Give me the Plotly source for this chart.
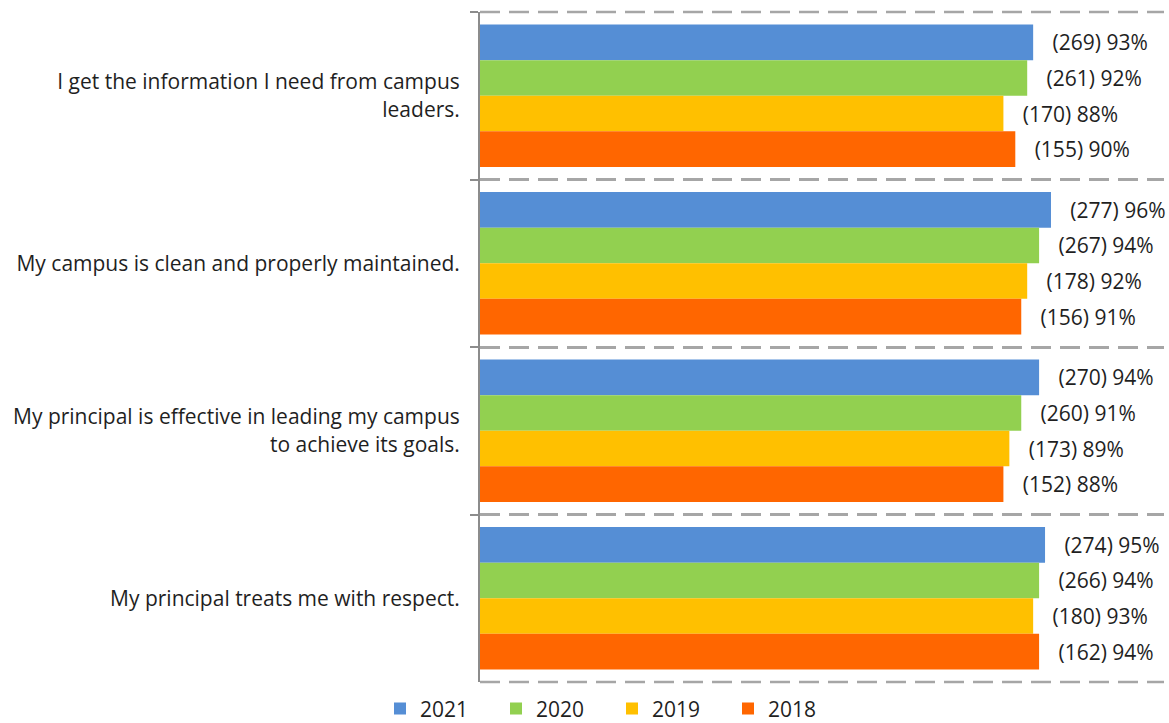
import plotly.graph_objects as go

categories = [
    "I get the information I need from campus<br>leaders.",
    "My campus is clean and properly maintained.",
    "My principal is effective in leading my campus<br>to achieve its goals.",
    "My principal treats me with respect.",
]
years = ["2021", "2020", "2019", "2018"]
colors = ["#558ED5", "#92D050", "#FFC000", "#FF6600"]
counts = {
    "2021": [269, 277, 270, 274],
    "2020": [261, 267, 260, 266],
    "2019": [170, 178, 173, 180],
    "2018": [155, 156, 152, 162],
}
percents = {
    "2021": [93, 96, 94, 95],
    "2020": [92, 94, 91, 94],
    "2019": [88, 92, 89, 93],
    "2018": [90, 91, 88, 94],
}

FONT = "Open Sans"
FS = 21
TEXT = "#1F1F1F"
GRID = "#A6A6A6"
AXIS = "#8C8C8C"
DASH = "20px,9px"

fig = go.Figure()
for year, color in zip(years, colors):
    fig.add_trace(go.Bar(
        y=categories,
        x=percents[year],
        name=year,
        orientation="h",
        marker=dict(color=color, line=dict(width=0)),
        text=[f"   ({c}) {p}%" for c, p in zip(counts[year], percents[year])],
        textposition="outside",
        textfont=dict(family=FONT, size=FS, color=TEXT),
        cliponaxis=False,
    ))

# dashed border lines along the top and bottom of the plot area
for yy in (0, 1):
    fig.add_shape(
        type="line", xref="paper", yref="paper",
        x0=0, x1=1, y0=yy, y1=yy,
        line=dict(color=GRID, width=2.5, dash=DASH),
        layer="below",
    )

fig.update_layout(
    width=1169,
    height=723,
    margin=dict(l=480, r=5, t=12, b=41, autoexpand=False),
    plot_bgcolor="white",
    paper_bgcolor="white",
    barmode="group",
    bargap=0.15,
    bargroupgap=0,
    font=dict(family=FONT, size=FS, color=TEXT),
    showlegend=True,
    legend=dict(
        orientation="h",
        xref="paper", yref="paper",
        x=(380 - 480) / 684, xanchor="left",
        y=-0.040, yanchor="middle",
        entrywidth=71, entrywidthmode="pixels",
        font=dict(family=FONT, size=FS, color=TEXT),
        traceorder="normal",
        tracegroupgap=0,
        itemwidth=30,
    ),
    uniformtext=dict(minsize=FS, mode="show"),
)

fig.update_xaxes(
    range=[0, 115],
    showticklabels=False,
    showgrid=False,
    zeroline=False,
    showline=False,
)
fig.update_yaxes(
    autorange="reversed",
    tickson="boundaries",
    showgrid=True,
    gridcolor=GRID,
    gridwidth=2.5,
    griddash=DASH,
    showline=True,
    linecolor=AXIS,
    linewidth=2,
    ticks="outside",
    ticklen=8,
    tickcolor=AXIS,
    tickwidth=2,
    ticklabelstandoff=14,
    tickfont=dict(family=FONT, size=FS, color=TEXT),
)

fig.write_html("out.html")
